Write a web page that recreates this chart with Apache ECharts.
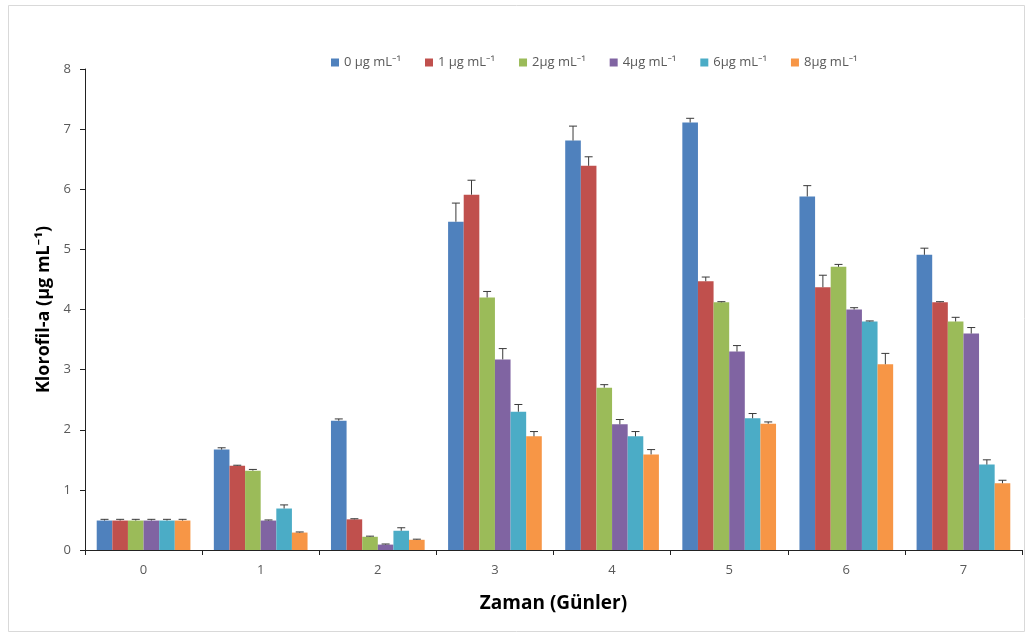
<!DOCTYPE html>
<html>
<head>
<meta charset="utf-8">
<script src="https://cdn.jsdelivr.net/npm/echarts@6/dist/echarts.min.js"></script>
<style>
  html, body { margin: 0; padding: 0; background: #fff; }
  #chart { width: 1030px; height: 637px; }
</style>
</head>
<body>
<div id="chart"></div>
<script>
// Days of the experiment
const days = ['0', '1', '2', '3', '4', '5', '6', '7'];

// Concentration groups
const seriesNames = ['0 µg mL⁻¹', '1 µg mL⁻¹', '2µg mL⁻¹', '4µg mL⁻¹', '6µg mL⁻¹', '8µg mL⁻¹'];
const seriesColors = ['#4F81BD', '#C0504D', '#9BBB59', '#8064A2', '#4BACC6', '#F79646'];

// Chlorophyll-a means (µg mL⁻¹) per day
const c0 = [0.49, 1.67, 2.15, 5.46, 6.81, 7.11, 5.88, 4.91];
const c1 = [0.49, 1.40, 0.51, 5.91, 6.39, 4.47, 4.37, 4.12];
const c2 = [0.49, 1.32, 0.22, 4.20, 2.70, 4.12, 4.71, 3.80];
const c4 = [0.49, 0.49, 0.09, 3.17, 2.09, 3.30, 4.00, 3.60];
const c6 = [0.49, 0.69, 0.32, 2.30, 1.89, 2.19, 3.80, 1.42];
const c8 = [0.49, 0.29, 0.17, 1.89, 1.59, 2.10, 3.09, 1.11];

// Standard deviations (upper error bars)
const e0 = [0.02, 0.03, 0.03, 0.31, 0.24, 0.07, 0.18, 0.11];
const e1 = [0.02, 0.01, 0.01, 0.24, 0.15, 0.07, 0.20, 0.01];
const e2 = [0.02, 0.02, 0.01, 0.10, 0.05, 0.01, 0.04, 0.07];
const e4 = [0.02, 0.01, 0.01, 0.18, 0.08, 0.10, 0.03, 0.10];
const e6 = [0.02, 0.06, 0.05, 0.12, 0.08, 0.08, 0.01, 0.08];
const e8 = [0.02, 0.01, 0.01, 0.08, 0.08, 0.03, 0.18, 0.05];

// Y axis ticks
const yMin = 0, yMax = 8, yStep = 1;

const means = [c0, c1, c2, c4, c6, c8];
const errs = [e0, e1, e2, e4, e6, e8];
const nSeries = means.length;
const catGap = 0.2;

const chart = echarts.init(document.getElementById('chart'));

const barSeries = means.map((vals, i) => ({
  name: seriesNames[i],
  type: 'bar',
  data: vals,
  barGap: '0%',
  barCategoryGap: (catGap * 100) + '%',
  itemStyle: { color: seriesColors[i] },
  z: 2
}));

// Upper error bars with caps, centred on each bar of a group
const errSeries = means.map((vals, i) => ({
  name: seriesNames[i] + ' err',
  type: 'custom',
  z: 3,
  silent: true,
  data: vals.map((v, k) => [k, v, v + errs[i][k]]),
  renderItem: function (params, api) {
    const k = api.value(0);
    const base = api.coord([k, api.value(1)]);
    const top = api.coord([k, api.value(2)]);
    const band = api.size([1, 0])[0];
    const bw = band * (1 - catGap) / nSeries;
    const x = base[0] + (i - (nSeries - 1) / 2) * bw;
    const cap = 4;
    const style = { stroke: '#3a3a3a', lineWidth: 1 };
    return {
      type: 'group',
      children: [
        { type: 'line', shape: { x1: x, y1: base[1], x2: x, y2: top[1] }, style: style },
        { type: 'line', shape: { x1: x - cap, y1: top[1], x2: x + cap, y2: top[1] }, style: style }
      ]
    };
  }
}));

const labelColor = '#595959';
const fontFam = 'Open Sans, Noto Sans, sans-serif';

chart.setOption({
  animation: false,
  backgroundColor: '#fff',
  textStyle: { fontFamily: fontFam },
  graphic: [{
    type: 'rect',
    shape: { x: 8.5, y: 5.5, width: 1016, height: 626 },
    style: { fill: 'none', stroke: '#d9d9d9', lineWidth: 1 },
    silent: true
  }],
  legend: {
    data: seriesNames,
    top: 51,
    left: 326,
    itemWidth: 8,
    itemHeight: 8,
    itemGap: 24,
    icon: 'rect',
    textStyle: { color: labelColor, fontSize: 13, fontFamily: fontFam }
  },
  grid: { left: 85, right: 8, top: 69, bottom: 87 },
  xAxis: {
    type: 'category',
    data: days,
    name: 'Zaman (Günler)',
    nameLocation: 'middle',
    nameGap: 44,
    nameTextStyle: { color: '#000', fontSize: 19, fontWeight: 'bold', fontFamily: fontFam },
    axisLine: { lineStyle: { color: '#222', width: 1 } },
    axisTick: { show: true, alignWithLabel: false, length: 5, lineStyle: { color: '#222' } },
    axisLabel: { color: labelColor, fontSize: 13, margin: 14 },
    splitLine: { show: false }
  },
  yAxis: {
    type: 'value',
    min: yMin,
    max: yMax,
    interval: yStep,
    name: 'Klorofil-a (µg mL⁻¹)',
    nameLocation: 'middle',
    nameGap: 29,
    nameTextStyle: { color: '#000', fontSize: 18, fontWeight: 'bold', fontFamily: fontFam },
    axisLine: { show: true, lineStyle: { color: '#222', width: 1 } },
    axisTick: { show: true, length: 5, lineStyle: { color: '#222' } },
    axisLabel: { color: labelColor, fontSize: 13, margin: 14 },
    splitLine: { show: false }
  },
  series: barSeries.concat(errSeries)
});
</script>
</body>
</html>
